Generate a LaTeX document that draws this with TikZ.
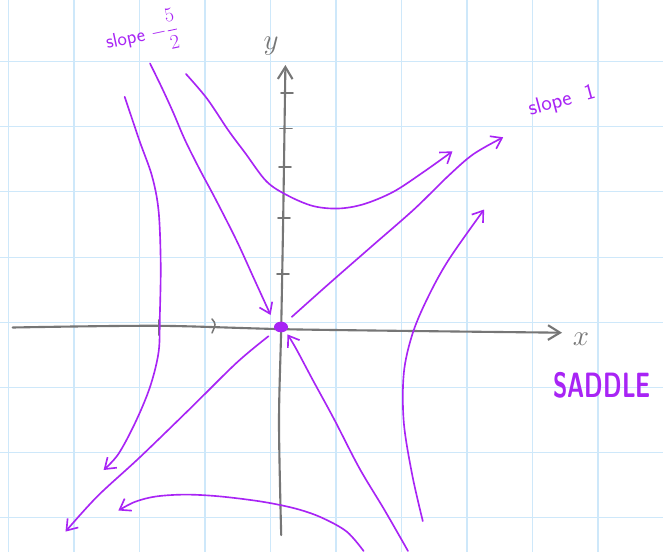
\documentclass[tikz,border=0pt]{standalone}
\usepackage{amsmath}
\usetikzlibrary{arrows.meta}
\definecolor{pen}{RGB}{168,36,245}
\definecolor{pencil}{RGB}{118,118,118}
\definecolor{paper}{RGB}{206,232,250}
\tikzstyle{orbit} = [draw=pen, line width=1.4pt, line cap=round, line join=round, ->]
\tikzstyle{axis} = [draw=pencil, line width=1.8pt, line cap=round]
\tikzstyle{tick} = [draw=pencil, line width=1.3pt, line cap=round]
\tikzstyle{note} = [text=pen, font=\sffamily\fontsize{17}{17}\selectfont]

\begin{document}
\begin{tikzpicture}[x=0.03cm, y=-0.03cm, >={Straight Barb[length=3mm, width=4.2mm]}]

\useasboundingbox (0,0) rectangle (663,552);
\fill[white] (0,0) rectangle (663,552);

% squared paper
\foreach \i in {0,...,10}
  \draw[paper, line width=0.9pt] (8.5+65.5*\i, 0) -- (8.5+65.5*\i, 552);
\foreach \j in {0,...,8}
  \draw[paper, line width=0.9pt] (0, -3.5+65.15*\j) -- (663, -3.5+65.15*\j);

% axes
\draw[axis, -{Straight Barb[length=3.6mm, width=4.4mm]}] plot[smooth] coordinates {(12.7,327.5) (158,325.8) (300,329.5) (562,332.7)};
\draw[axis, -{Straight Barb[length=3.6mm, width=4.4mm]}] plot[smooth] coordinates {(281.2,535) (279,422.5) (281.2,327.4) (283.3,211) (285.4,65)};
\foreach \ty/\tx in {93/286, 128.5/285, 167/284, 218/283, 274/282}
  \draw[tick] (\tx-5,\ty) -- (\tx+7,\ty);
\draw[tick] (158.5,320) -- (158.5,335);
\draw[tick] (212,319) .. controls (216,324) .. (212,333);
\node[text=pencil, font=\fontsize{32}{32}\selectfont] (xlabel) at (581,339) {$x$};
\node[text=pencil, font=\fontsize{28}{28}\selectfont] (ylabel) at (271,46) {$y$};

% saddle point
\coordinate (O) at (281,327);
\fill[pen] (O) ellipse [x radius=0.21cm, y radius=0.16cm];

% trajectories
\draw[orbit] plot[smooth, tension=0.55] coordinates {(124.7,96.8) (139.5,140.8) (152,176) (158.6,211) (160.7,264) (159.8,317) (158.6,352) (150,387) (135.3,422.5) (118.4,454) (103.6,470)};
\draw[orbit] plot[smooth, tension=0.55] coordinates {(150,63.4) (162,88) (173,112) (185,140) (200,170) (216,200) (236.8,241) (253.7,278) (270.6,315)};
\draw[orbit] plot[smooth, tension=0.55] coordinates {(186,74) (207,98.6) (228.3,130.3) (245.2,153) (266.4,181.3) (287.5,195.4) (313,206) (338.3,208.5) (363.6,204.2) (393.2,191.9) (422.8,172.5) (452.4,151.4)};
\draw[orbit] plot[smooth, tension=0.55] coordinates {(291.8,316.9) (329.8,283) (372.1,246) (414.4,209) (448.2,176) (473.6,154) (503.2,137.3)};
\draw[orbit] plot[smooth, tension=0.55] coordinates {(422.8,521.1) (412.3,475.3) (403.8,422.5) (403.8,373.2) (412.3,334.4) (427,299.2) (448.2,260.5) (484.1,209.5)};
\draw[orbit] plot[smooth, tension=0.55] coordinates {(408,551) (384.8,510.5) (359.4,468.2) (334,419) (312.9,380.2) (296,348.5) (287.5,334.4)};
\draw[orbit] plot[smooth, tension=0.55] coordinates {(268.5,336.2) (236.8,362.6) (190.3,408.4) (139.5,457.6) (97.3,496.4) (65.5,531.6)};
\draw[orbit] plot[smooth, tension=0.55] coordinates {(363.6,551) (346.7,531.6) (321.4,517.5) (296,508.7) (262.2,501.7) (219.9,496.4) (186,494.6) (156.4,496.4) (135.3,501.7) (118.4,510.5)};

% labels
\node[note, rotate=12] (slopeA) at (142,35) {slope $-\dfrac{5}{2}$};
\node[note, rotate=15, font=\sffamily\fontsize{19}{19}\selectfont] (slopeB) at (562,101) {slope~~1};
\node[text=pen, font=\sffamily\bfseries\fontsize{20}{20}\selectfont, yscale=1.5] (saddle) at (602,385) {SADDLE};

\end{tikzpicture}
\end{document}
